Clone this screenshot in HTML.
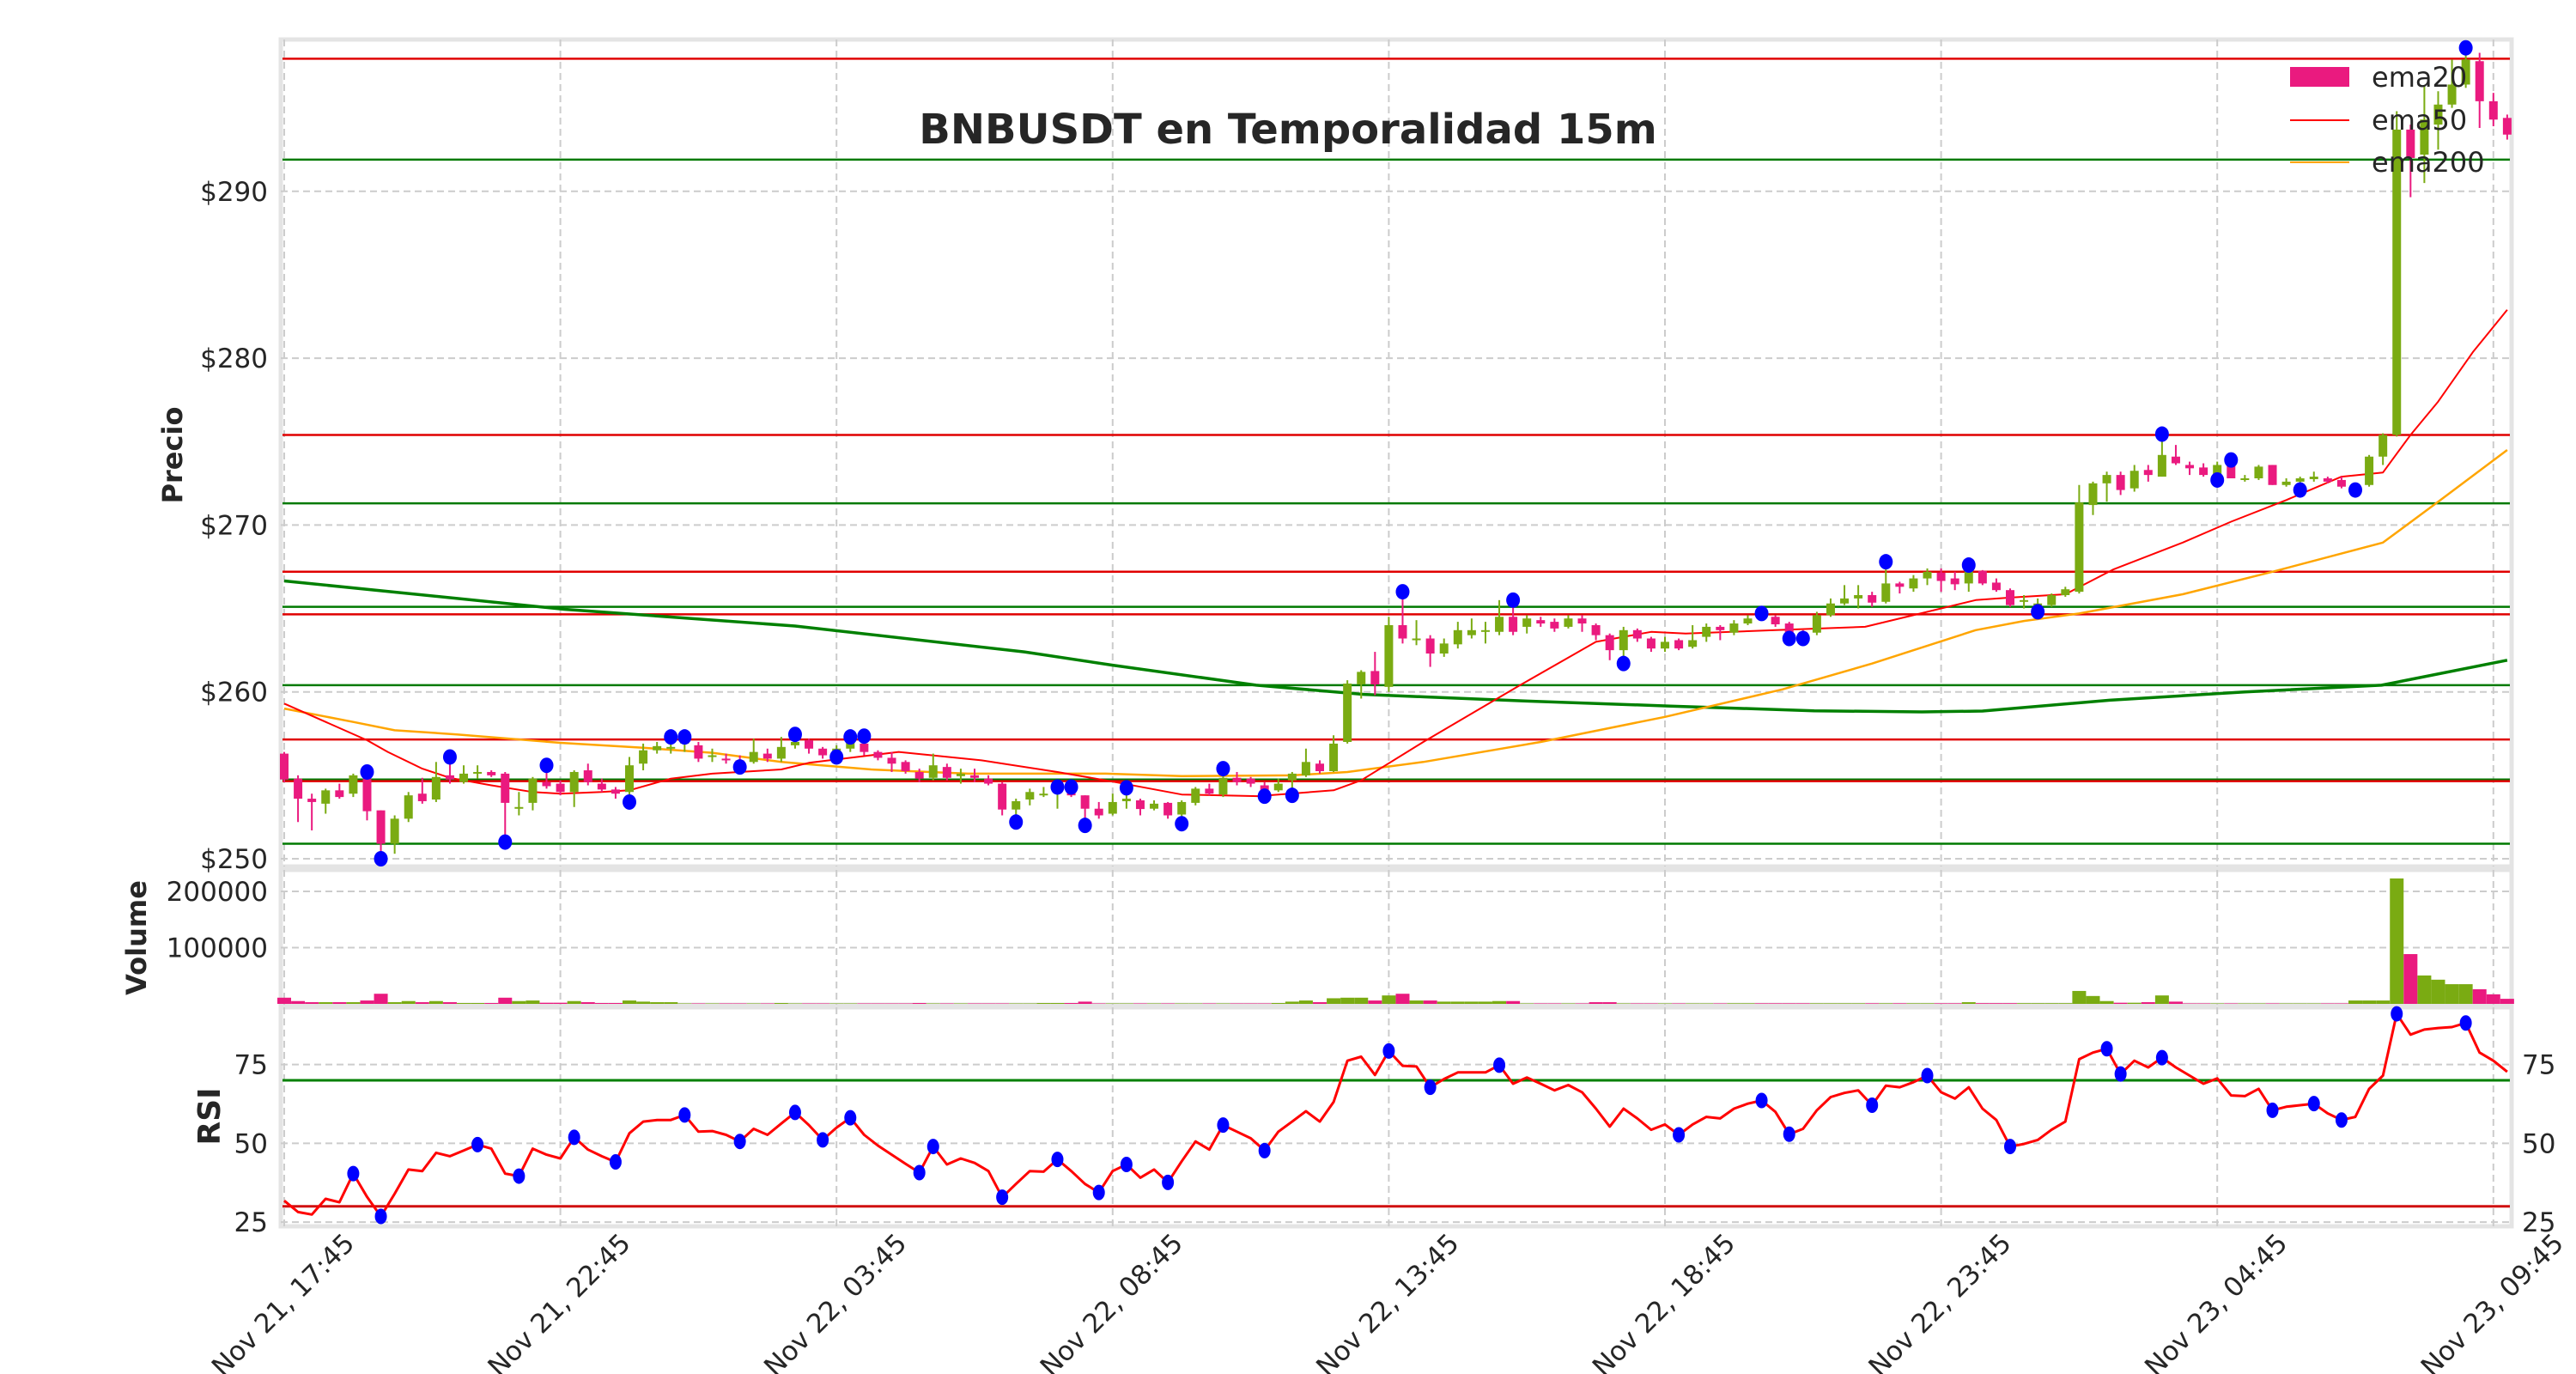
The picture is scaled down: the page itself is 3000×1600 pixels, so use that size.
<!DOCTYPE html>
<html><head><meta charset="utf-8"><style>
html,body{margin:0;padding:0;background:#fff;}
svg{display:block;font-family:"DejaVu Sans","Liberation Sans",sans-serif;}
</style></head><body>
<svg id="chart" xmlns="http://www.w3.org/2000/svg" width="3000" height="1600" viewBox="0 0 3000 1600">
<rect x="0" y="0" width="3000" height="1600" fill="#fff"/>
<g id="main"></g>
<g id="vol"></g>
<g id="rsi"></g>
<g id="xaxis"></g>
<text x="1500" y="167" text-anchor="middle" font-size="48" font-weight="bold" fill="#262626">BNBUSDT en Temporalidad 15m</text>
<text transform="translate(212,530) rotate(-90)" text-anchor="middle" font-size="32" font-weight="bold" fill="#262626">Precio</text>
<text transform="translate(170,1092) rotate(-90)" text-anchor="middle" font-size="32" font-weight="bold" fill="#262626">Volume</text>
<text transform="translate(256,1300) rotate(-90)" text-anchor="middle" font-size="36" font-weight="bold" fill="#262626">RSI</text>
<g>
<rect x="2667" y="78" width="69" height="23" fill="#ea1a7f"/>
<text x="2762" y="101" font-size="32" fill="#262626">ema20</text>
<line x1="2667" y1="140" x2="2736" y2="140" stroke="#ff0000" stroke-width="2"/>
<text x="2762" y="151" font-size="32" fill="#262626">ema50</text>
<line x1="2667" y1="189" x2="2736" y2="189" stroke="#ffa500" stroke-width="2"/>
<text x="2762" y="200" font-size="32" fill="#262626">ema200</text>
</g>
</svg>
<script>
const opens=[256.3,254.8,253.6,253.3,254.1,253.9,254.8,252.9,250.9,252.4,253.9,253.55,255.0,254.6,255.2,255.2,255.1,253.1,253.35,254.6,254.5,254.0,255.3,254.5,254.15,254.0,255.7,256.5,256.7,256.9,256.8,256.2,256.0,255.9,255.8,256.3,256.0,256.8,257.1,256.6,256.2,256.6,256.9,256.4,256.05,255.8,255.2,254.85,255.5,254.95,255.0,254.8,254.5,252.95,253.55,253.9,254.3,254.05,253.8,253.0,252.7,253.45,253.5,253.0,253.35,252.65,253.35,254.2,253.85,254.85,254.8,254.4,254.1,254.7,255.0,255.7,255.25,257.0,260.45,261.25,260.3,264.0,263.2,263.2,262.3,262.85,263.4,263.7,263.6,264.5,263.9,264.3,264.2,263.9,264.4,264.0,263.4,262.5,263.7,263.2,262.6,263.1,262.7,263.3,263.9,263.55,264.1,264.7,264.5,264.1,263.6,263.55,264.6,265.3,265.6,265.8,265.4,266.5,266.2,266.8,267.15,266.8,266.5,267.25,266.55,266.1,265.5,265.0,265.2,265.8,266.0,271.2,272.5,273.0,272.2,273.3,272.9,274.1,273.6,273.45,273.0,273.8,272.8,272.8,273.6,272.4,272.6,272.75,272.8,272.7,272.4,272.4,274.1,275.4,293.7,292.2,294.0,295.2,296.4,297.8,295.4,294.4];
const closes=[254.75,253.6,253.4,254.1,253.7,255.0,252.85,250.9,252.4,253.8,253.45,254.9,254.75,255.1,255.2,255.0,253.35,253.1,254.8,254.35,254.0,255.2,254.6,254.15,253.9,255.6,256.5,256.75,256.7,257.0,256.0,256.2,255.9,255.5,256.4,256.0,256.7,257.0,256.6,256.2,256.6,257.0,256.4,256.05,255.7,255.25,254.8,255.6,254.85,255.1,254.85,254.5,252.95,253.45,254.0,253.9,254.4,253.8,253.0,252.6,253.4,253.6,252.98,253.3,252.6,253.4,254.2,253.9,254.85,254.6,254.5,254.05,254.5,255.1,255.8,255.25,256.9,260.5,261.2,260.45,264.0,263.2,263.2,262.3,262.9,263.7,263.7,263.7,264.5,263.6,264.4,264.1,263.8,264.4,264.1,263.4,262.5,263.7,263.2,262.6,263.0,262.6,263.1,263.9,263.7,264.1,264.4,264.6,264.05,263.55,263.5,264.6,265.3,265.6,265.8,265.35,266.5,266.3,266.8,267.2,266.65,266.45,267.6,266.5,266.1,265.2,265.5,265.3,265.8,266.15,271.35,272.5,273.0,272.1,273.25,273.0,274.2,273.7,273.4,273.0,273.6,272.8,272.8,273.5,272.4,272.6,272.8,272.9,272.6,272.3,272.4,274.1,275.4,293.7,292.0,294.3,295.2,296.4,297.9,295.4,294.3,293.4];
const highs=[256.4,255.0,253.9,254.2,254.5,255.1,255.2,252.9,252.6,254.0,254.85,255.8,256.1,255.6,255.6,255.3,255.2,254.0,254.9,255.6,254.7,255.3,255.7,254.8,254.3,256.1,256.9,257.0,257.3,257.3,257.0,256.6,256.3,256.2,257.2,256.6,257.3,257.45,257.2,256.7,256.8,257.3,257.35,256.5,256.4,255.9,255.4,256.3,255.7,255.4,255.4,255.0,254.6,253.6,254.2,254.3,254.4,254.3,253.8,253.4,253.9,254.25,253.6,253.5,253.4,253.5,254.3,254.5,255.4,255.2,254.9,254.6,254.8,255.2,256.6,255.9,257.4,260.7,261.3,262.4,264.5,266.0,264.3,263.4,263.2,264.2,264.4,264.2,265.5,265.5,264.6,264.5,264.4,264.6,264.6,264.1,263.5,263.9,263.8,263.3,263.3,263.2,264.0,264.1,264.0,264.3,264.6,264.8,264.6,264.2,263.7,264.8,265.6,266.4,266.4,266.0,267.8,266.6,267.0,267.4,267.4,267.2,267.6,267.3,266.8,266.2,265.8,265.6,265.9,266.3,272.4,272.6,273.2,273.2,273.6,273.6,275.45,274.8,273.8,273.7,273.8,273.9,273.0,273.6,273.6,272.8,272.9,273.2,272.9,272.9,272.5,274.2,275.5,294.8,294.0,296.3,296.0,297.9,298.6,298.3,295.9,294.6];
const lows=[254.6,252.2,251.7,252.7,253.6,253.7,252.3,250.0,250.3,252.2,253.3,253.4,254.5,254.5,254.8,254.9,251.0,252.6,252.9,254.2,253.8,253.1,254.4,254.0,253.6,253.4,255.3,256.3,256.3,256.4,255.8,255.8,255.7,255.5,255.7,255.8,255.8,256.6,256.3,256.0,256.1,256.4,256.2,255.9,255.2,255.1,254.6,254.7,254.7,254.5,254.6,254.4,252.6,252.2,253.2,253.7,253.0,253.7,252.0,252.4,252.6,253.0,252.6,252.9,252.4,252.1,253.2,253.8,253.7,254.4,254.3,253.75,254.0,253.8,254.9,255.1,255.2,256.9,259.6,259.8,260.0,262.9,262.8,261.5,262.1,262.6,263.2,262.9,263.4,263.4,263.5,263.9,263.6,263.8,263.6,263.1,261.9,261.7,263.0,262.4,262.4,262.5,262.6,263.0,263.1,263.4,264.0,264.4,263.9,263.2,263.2,263.4,264.5,265.2,265.0,265.1,265.3,265.9,266.0,266.4,266.0,266.1,266.0,266.4,266.0,265.1,265.0,264.8,265.1,265.7,265.9,270.6,271.4,271.8,272.0,272.6,272.9,273.6,273.0,272.9,272.7,272.8,272.6,272.7,272.4,272.3,272.1,272.6,272.5,272.2,272.1,272.3,273.6,275.3,289.65,290.5,292.5,295.0,296.2,293.8,293.9,293.1];
const volumes=[11000,5000,3000,3000,3000,3000,6000,18000,3000,5000,3000,5000,3000,1500,1500,1500,11000,5000,6000,2000,2000,5000,3000,1500,1500,6000,4000,3000,3000,800,800,800,800,800,800,800,1500,800,800,800,800,800,800,800,800,800,1500,800,800,800,800,800,800,800,800,1500,1500,1500,4000,800,800,800,800,800,800,800,800,800,800,800,800,800,1500,4000,6000,3000,10000,11000,11000,6000,15000,18000,6000,6000,4000,4000,4000,4000,5000,5000,800,800,800,800,800,3000,3000,800,800,800,800,800,800,800,800,1000,1000,1000,1000,1000,1000,1000,1000,1000,1000,1000,1000,1000,1000,1000,1000,1000,3000,1200,1200,1200,1200,1200,1200,1200,23000,14000,5000,2000,2000,3000,15000,4000,800,800,800,800,800,800,800,800,800,800,800,800,6000,6000,6000,223000,88500,50500,43000,35000,35000,26000,17000,9000];
const rsiValues=[31.8,28.2,27.4,32.4,31.3,40.4,33,26.8,34,41.7,41.2,47,45.9,47.7,49.6,48.3,40.4,39.6,48.3,46.4,45.2,51.9,48,45.9,44.1,53.2,56.9,57.4,57.4,59,53.7,53.9,52.7,50.6,54.6,52.7,56.3,59.8,55.8,51.1,55,58.1,52.7,49.3,46.4,43.5,40.7,49,43.3,45.2,43.8,41.2,32.9,37.1,41.2,41,44.9,41.2,37.1,34.4,41.2,43.3,39.1,41.7,37.6,44.3,50.6,48,55.8,53.7,51.6,47.7,53.7,56.9,60.2,56.9,63.1,76.2,77.5,71.7,79.3,74.6,74.4,67.8,70.4,72.5,72.5,72.5,74.8,68.9,70.9,68.9,66.8,68.5,66.2,61,55.3,61,57.9,54.3,56,52.7,56,58.4,57.9,61,62.6,63.6,60,52.9,54.6,60.5,64.7,66,66.8,62.1,68.3,67.8,69.4,71.5,66.2,64.2,67.8,61,57.4,49,49.8,51.1,54.3,56.9,76.7,78.8,80,72,76.2,74.1,77.2,74.1,71.5,68.9,70.6,65.2,65,67.3,60.5,61.6,62.1,62.6,59.5,57.4,58.4,67.3,71.5,91.1,84.5,86.1,86.6,86.9,88.2,78.8,76.2,72.7];
const rsiMarkerIdx=[5,7,14,17,21,24,29,33,37,39,41,46,47,52,56,59,61,64,68,71,80,83,88,101,107,109,115,119,125,132,133,136,144,147,149,153,158];
const peakIdx=[6,12,19,28,29,37,41,42,61,68,81,89,107,116,122,136,141,158];
const peakVals=[255.2,256.1,255.6,257.3,257.3,257.45,257.3,257.35,254.25,255.4,266.0,265.5,264.7,267.8,267.6,275.45,273.9,298.6];
const troughIdx=[7,16,25,33,40,53,56,57,58,65,71,73,97,109,110,127,140,146,150];
const troughVals=[250.0,251.0,253.4,255.5,256.1,252.2,254.3,254.3,252.0,252.1,253.75,253.8,261.7,263.2,263.2,264.8,272.7,272.1,272.1];
const resistanceLevels=[297.95,275.4,267.2,264.65,257.15,254.65];
const supportLevels=[291.9,271.3,265.1,260.4,254.75,250.9];
const emaFastIdx=[0,6,7.5,10,12,15,18,20,23,25,28,31,36,38,42.5,44.5,50.5,56,59.5,65,70.5,76,78,82.5,89.5,95,99,101.5,108,114.5,118.5,122.5,125,129,132.5,137.5,141,145,149,152,154,156,158.5,161];
const emaFastVals=[259.3,257.1,256.4,255.4,254.85,254.4,254.0,253.9,254.0,254.1,254.8,255.1,255.35,255.75,256.2,256.4,255.9,255.2,254.7,253.85,253.75,254.1,254.7,257.0,260.4,263.0,263.6,263.5,263.7,263.9,264.7,265.5,265.65,265.85,267.35,268.95,270.2,271.5,272.9,273.15,275.4,277.4,280.35,282.9];
const emaMidIdx=[0,5,8,12.5,20,26,31,36,42.5,49.5,59.5,65,73,77,82.5,91,100,108.5,115,122.5,126,130,137.5,144,152,156,161];
const emaMidVals=[259.0,258.2,257.7,257.45,256.95,256.65,256.35,255.8,255.35,255.1,255.1,254.95,255.0,255.2,255.8,257.0,258.5,260.15,261.7,263.7,264.25,264.7,265.85,267.2,268.95,271.4,274.5];
const emaSlowIdx=[0,20.3,37,53.6,60,70.4,78.2,82.6,90,100.4,110.8,118.6,123,132.2,142,151.9,161];
const emaSlowVals=[266.65,264.95,263.95,262.4,261.6,260.4,259.85,259.7,259.45,259.15,258.87,258.8,258.85,259.5,260.0,260.4,261.9];
const priceTicks=[250,260,270,280,290];
const priceTickLabels=["$250","$260","$270","$280","$290"];
const volTicks=[100000,200000];
const volTickLabels=["100000","200000"];
const rsiTicks=[25,50,75];
const rsiTickLabels=["25","50","75"];
const xTickIdx=[0,20,40,60,80,100,120,140,160];
const xTickLabels=["Nov 21, 17:45","Nov 21, 22:45","Nov 22, 03:45","Nov 22, 08:45","Nov 22, 13:45","Nov 22, 18:45","Nov 22, 23:45","Nov 23, 04:45","Nov 23, 09:45"];
const rsiOverbought=[70];
const rsiOversold=[30];

const NS="http://www.w3.org/2000/svg";
const L=327,R=2925;
const xOf=i=>331+i*16.08;
const yP=p=>1000-(p-250)*19.43;
const yV=v=>1169-v*0.000655;
const yR=r=>1331.4-(r-50)*3.67;
const GREEN="#7aab12",PINK="#ea1a7f";
function mk(parent,tag,attrs){const e=document.createElementNS(NS,tag);for(const k in attrs)e.setAttribute(k,attrs[k]);parent.appendChild(e);return e;}
const main=document.getElementById('main'),vol=document.getElementById('vol'),rsi=document.getElementById('rsi'),xa=document.getElementById('xaxis');

function frame(g,top,bot,name){
  const r=mk(g,'rect',{x:L,y:top,width:R-L,height:bot-top,fill:'none',stroke:'#e4e4e4','stroke-width':5});
  
  
  xTickIdx.forEach(i=>{const l=mk(g,'line',{x1:xOf(i),x2:xOf(i),y1:top,y2:bot,stroke:'#cccccc','stroke-width':2,'stroke-dasharray':'8,5'});
    
    });
}
frame(main,46,1009,'price-frame');
priceTicks.forEach((p,k)=>{
  const l=mk(main,'line',{x1:L,x2:R,y1:yP(p),y2:yP(p),stroke:'#cccccc','stroke-width':2,'stroke-dasharray':'8,5'});
  
  
  const t=mk(main,'text',{x:312,y:yP(p)+11,'text-anchor':'end','font-size':31,fill:'#262626'});
  t.textContent=priceTickLabels[k];
  
  
});
supportLevels.forEach(p=>{const l=mk(main,'line',{x1:L+2,x2:R-2,y1:yP(p),y2:yP(p),stroke:'#007a00','stroke-width':2.5});
  
  });
resistanceLevels.forEach(p=>{const l=mk(main,'line',{x1:L+2,x2:R-2,y1:yP(p),y2:yP(p),stroke:'#e00000','stroke-width':2.5});
  
  });
function poly(g,idx,vals,yf,color,w,name){
  const pts=idx.map((i,k)=>xOf(i).toFixed(1)+','+yf(vals[k]).toFixed(1)).join(' ');
  const e=mk(g,'polyline',{points:pts,fill:'none',stroke:color,'stroke-width':w,'stroke-linejoin':'round'});
  
  
}
poly(main,emaSlowIdx,emaSlowVals,yP,'#008000',3.5,'ema-slow-line');
poly(main,emaMidIdx,emaMidVals,yP,'#ffa500',2.5,'ema200-line');
poly(main,emaFastIdx,emaFastVals,yP,'#ff0000',2,'ema50-line');
for(let i=0;i<opens.length;i++){
  const up=closes[i]>=opens[i],c=up?GREEN:PINK,x=xOf(i);
  const w=mk(main,'line',{x1:x,x2:x,y1:yP(highs[i]),y2:yP(lows[i]),stroke:c,'stroke-width':2});
  
  
  const t=yP(Math.max(opens[i],closes[i])),b=yP(Math.min(opens[i],closes[i]));
  const r=mk(main,'rect',{x:x-5,y:t,width:10,height:Math.max(2,b-t),fill:c});
  
  
}
peakIdx.forEach((i,k)=>{const e=mk(main,'ellipse',{cx:xOf(i),cy:yP(peakVals[k]),rx:8,ry:9,fill:'#0000ff'});
  
  });
troughIdx.forEach((i,k)=>{const e=mk(main,'ellipse',{cx:xOf(i),cy:yP(troughVals[k]),rx:8,ry:9,fill:'#0000ff'});
  
  });

frame(vol,1013,1170,'volume-frame');
volTicks.forEach((v,k)=>{
  const l=mk(vol,'line',{x1:L,x2:R,y1:yV(v),y2:yV(v),stroke:'#cccccc','stroke-width':2,'stroke-dasharray':'8,5'});
  
  
  const t=mk(vol,'text',{x:312,y:yV(v)+11,'text-anchor':'end','font-size':31,fill:'#262626'});
  t.textContent=volTickLabels[k];
  
  
});
volumes.forEach((v,i)=>{
  const up=closes[i]>=opens[i];
  const r=mk(vol,'rect',{x:xOf(i)-8,y:yV(v),width:16,height:1169-yV(v),fill:up?GREEN:PINK});
  
  
});

frame(rsi,1173,1428,'rsi-frame');
rsiTicks.forEach((v,k)=>{
  const l=mk(rsi,'line',{x1:L,x2:R,y1:yR(v),y2:yR(v),stroke:'#cccccc','stroke-width':2,'stroke-dasharray':'8,5'});
  
  
  const t=mk(rsi,'text',{x:312,y:yR(v)+11,'text-anchor':'end','font-size':31,fill:'#262626'});
  t.textContent=rsiTickLabels[k];
  
  
  const t2=mk(rsi,'text',{x:2937,y:yR(v)+11,'text-anchor':'start','font-size':31,fill:'#262626'});
  t2.textContent=rsiTickLabels[k];
  
  
});
rsiOverbought.forEach(v=>{const l=mk(rsi,'line',{x1:L+2,x2:R-2,y1:yR(v),y2:yR(v),stroke:'#008000','stroke-width':3});
  
  });
rsiOversold.forEach(v=>{const l=mk(rsi,'line',{x1:L+2,x2:R-2,y1:yR(v),y2:yR(v),stroke:'#d01010','stroke-width':3});
  
  });
poly(rsi,rsiValues.map((v,i)=>i),rsiValues,yR,'#ff0000',3,'rsi-line');
rsiMarkerIdx.forEach(i=>{const e=mk(rsi,'ellipse',{cx:xOf(i),cy:yR(rsiValues[i]),rx:7,ry:9,fill:'#0000ff'});
  
  });

xTickIdx.forEach((i,k)=>{
  const t=mk(xa,'text',{transform:`translate(${xOf(i)},${1521}) rotate(-45)`,'text-anchor':'middle','dominant-baseline':'middle','font-size':31,fill:'#262626'});
  t.textContent=xTickLabels[k];
  
  
});
</script>
</body></html>
